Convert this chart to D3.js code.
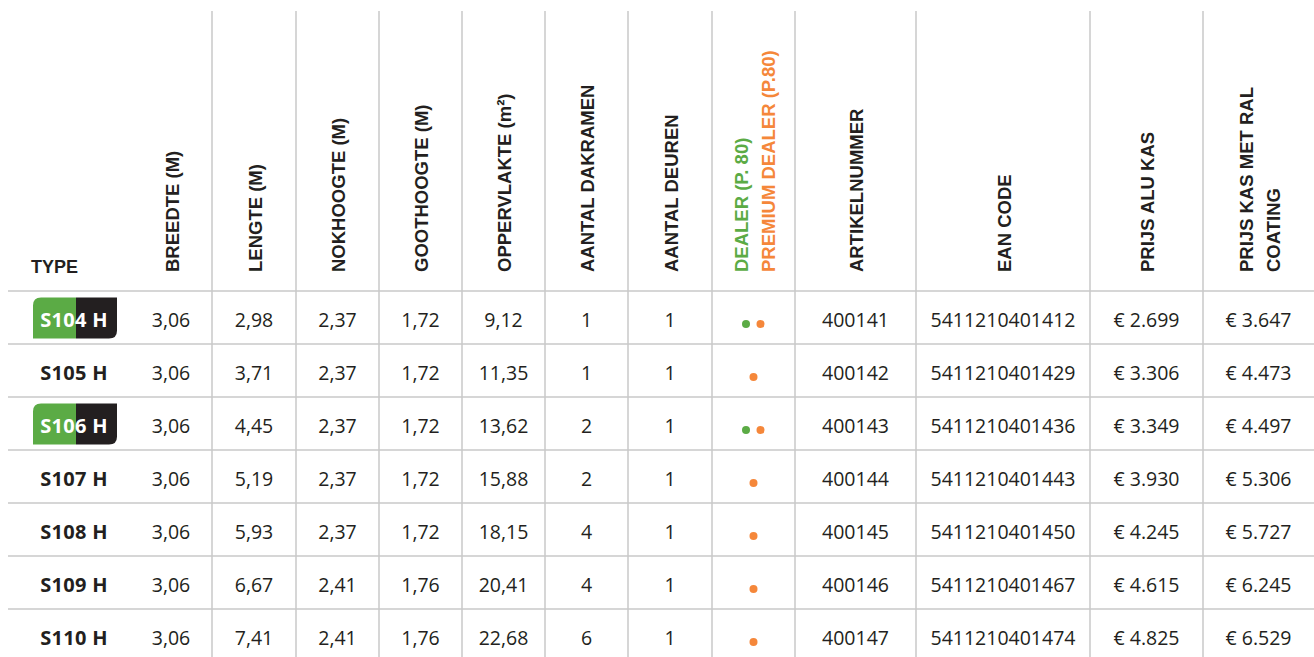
<!DOCTYPE html>
<html>
<head>
<meta charset="utf-8">
<script src="https://cdn.jsdelivr.net/npm/d3@7"></script>
<style>
  body { margin: 0; background: #fff; }
  svg { display: block; }
</style>
</head>
<body>
<svg width="1314" height="657"></svg>
<script>
// table data
var types = ["S104 H", "S105 H", "S106 H", "S107 H", "S108 H", "S109 H", "S110 H"];
var breedte = [3.06, 3.06, 3.06, 3.06, 3.06, 3.06, 3.06];
var lengte = [2.98, 3.71, 4.45, 5.19, 5.93, 6.67, 7.41];
var nokhoogte = [2.37, 2.37, 2.37, 2.37, 2.37, 2.41, 2.41];
var goothoogte = [1.72, 1.72, 1.72, 1.72, 1.72, 1.76, 1.76];
var oppervlakte = [9.12, 11.35, 13.62, 15.88, 18.15, 20.41, 22.68];
var dakramen = [1, 1, 2, 2, 4, 4, 6];
var deuren = [1, 1, 1, 1, 1, 1, 1];
var dealer = [true, false, true, false, false, false, false];
var premium = [true, true, true, true, true, true, true];
var artikel = ["400141", "400142", "400143", "400144", "400145", "400146", "400147"];
var ean = ["5411210401412", "5411210401429", "5411210401436", "5411210401443", "5411210401450", "5411210401467", "5411210401474"];
var prijsAlu = [2699, 3306, 3349, 3930, 4245, 4615, 4825];
var prijsRal = [3647, 4473, 4497, 5306, 5727, 6245, 6529];

var headers = [
  ["BREEDTE (M)"], ["LENGTE (M)"], ["NOKHOOGTE (M)"], ["GOOTHOOGTE (M)"],
  ["OPPERVLAKTE (m²)"], ["AANTAL DAKRAMEN"], ["AANTAL DEUREN"],
  ["DEALER (P. 80)", "PREMIUM DEALER (P.80)"], ["ARTIKELNUMMER"], ["EAN CODE"],
  ["PRIJS ALU KAS"], ["PRIJS KAS MET RAL", "COATING"]
];

var svg = d3.select("svg"),
    width = +svg.attr("width"),
    height = +svg.attr("height");

var green = "#5bab45", orange = "#f5873a", ink = "#231f20", grid = "#c9c9c9";
var headFont = "'Liberation Sans', Arial, sans-serif";
var bodyFont = "'Open Sans', Lato, sans-serif";

var nl = d3.formatLocale({decimal: ",", thousands: ".", grouping: [3], currency: ["€ ", ""]});
var dec = nl.format(".2f");
var euro = function(v) { return "€ " + nl.format(",.0f")(v); };

// column edges, first one is the type column
var edges = [0, 130, 212, 296, 379, 462, 545, 628, 712, 795, 916, 1090, 1203, 1314];
var colX = function(i) { return (edges[i] + edges[i + 1]) / 2; };

var y = d3.scaleBand()
    .domain(types)
    .range([291, 291 + 53 * types.length])
    .paddingInner(0);

// grid lines
svg.append("g").selectAll("line")
  .data(edges.slice(2, 13))
  .enter().append("line")
    .attr("x1", function(d) { return d; })
    .attr("x2", function(d) { return d; })
    .attr("y1", 11).attr("y2", height)
    .attr("stroke", grid).attr("stroke-width", 1.5);

svg.append("g").selectAll("line")
  .data(types)
  .enter().append("line")
    .attr("x1", 8).attr("x2", width)
    .attr("y1", function(d) { return y(d); })
    .attr("y2", function(d) { return y(d); })
    .attr("stroke", grid).attr("stroke-width", 1.5);

// header
svg.append("text")
    .attr("x", 31).attr("y", 273)
    .attr("font-family", headFont).attr("font-weight", "bold")
    .attr("font-size", 18).attr("fill", ink)
    .text("TYPE");

var head = svg.append("g").selectAll("g")
  .data(headers)
  .enter().append("g")
    .attr("transform", function(d, i) { return "translate(" + (colX(i + 1) + 1) + ",272) rotate(-90)"; });

head.selectAll("text")
  .data(function(d) { return d.map(function(t, j) { return {t: t, j: j, n: d.length}; }); })
  .enter().append("text")
    .attr("x", 0)
    .attr("y", function(d) { return (d.j - (d.n - 1) / 2) * 27; })
    .attr("dy", "0.36em")
    .attr("font-family", headFont).attr("font-weight", "bold")
    .attr("font-size", 18.5)
    .attr("fill", function(d) {
      if (d.t.indexOf("PREMIUM") === 0) return orange;
      if (d.t.indexOf("DEALER") === 0) return green;
      return ink;
    })
    .text(function(d) { return d.t; });

// rows
var row = svg.append("g").selectAll("g")
  .data(types)
  .enter().append("g")
    .attr("transform", function(d) { return "translate(0," + (y(d) + y.bandwidth() / 2) + ")"; });

// type badges: green left half, black right half
var badge = row.filter(function(d, i) { return dealer[i]; });
badge.append("path")
    .attr("fill", green)
    .attr("d", "M33,-20 h43 v41 h-43 v-33 q0,-8 8,-8 z");
badge.append("path")
    .attr("fill", ink)
    .attr("d", "M76,-20 h41 v33 q0,8 -8,8 h-33 z");

row.append("text")
    .attr("x", colX(0) + 9)
    .attr("y", 2).attr("dy", "0.36em")
    .attr("text-anchor", "middle")
    .attr("font-family", bodyFont).attr("font-weight", "bold")
    .attr("font-size", 20)
    .attr("letter-spacing", 0.3)
    .attr("fill", function(d, i) { return dealer[i] ? "#fff" : ink; })
    .text(function(d) { return d; });

var cols = [
  breedte.map(dec), lengte.map(dec), nokhoogte.map(dec), goothoogte.map(dec),
  oppervlakte.map(dec), dakramen.map(String), deuren.map(String),
  null, artikel, ean, prijsAlu.map(euro), prijsRal.map(euro)
];

cols.forEach(function(vals, c) {
  if (!vals) return;
  row.append("text")
      .attr("x", colX(c + 1))
      .attr("y", 2).attr("dy", "0.36em")
      .attr("text-anchor", "middle")
      .attr("font-family", bodyFont)
      .attr("font-size", 19.5)
      .attr("fill", ink)
      .text(function(d, i) { return vals[i]; });
});

// dealer dots
var dotX = colX(8);
row.filter(function(d, i) { return dealer[i]; }).append("circle")
    .attr("cx", dotX - 7.5).attr("cy", 6.5).attr("r", 4).attr("fill", green);
row.filter(function(d, i) { return premium[i]; }).append("circle")
    .attr("cx", function(d) { return dealer[types.indexOf(d)] ? dotX + 7 : dotX; })
    .attr("cy", 6.5).attr("r", 4).attr("fill", orange);
</script>
</body>
</html>
